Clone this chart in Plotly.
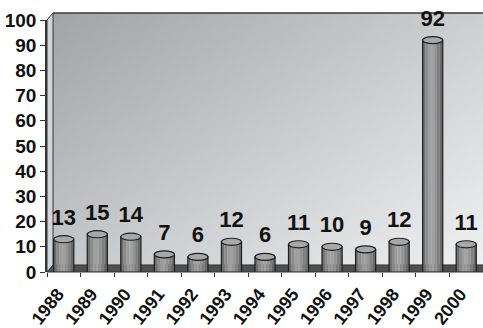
import base64
import struct
import zlib

import plotly.graph_objects as go

# Yearly counts
years = ["1988", "1989", "1990", "1991", "1992", "1993", "1994",
         "1995", "1996", "1997", "1998", "1999", "2000"]
counts = [13, 15, 14, 7, 6, 12, 6, 11, 10, 9, 12, 92, 11]
y_ticks = list(range(0, 101, 10))


def gradient_png(w, h, dark, light):
    """Diagonal grey gradient (dark top-left -> light bottom-right) as PNG data URI."""
    rows = []
    for j in range(h):
        row = bytearray([0])
        for i in range(w):
            t = 0.55 * i / (w - 1) + 0.45 * j / (h - 1)
            row.extend(int(round(d + (l - d) * t)) for d, l in zip(dark, light))
        rows.append(bytes(row))
    raw = b"".join(rows)

    def chunk(tag, data):
        c = struct.pack(">I", len(data)) + tag + data
        return c + struct.pack(">I", zlib.crc32(tag + data) & 0xFFFFFFFF)

    png = b"\x89PNG\r\n\x1a\n"
    png += chunk(b"IHDR", struct.pack(">IIBBBBB", w, h, 8, 2, 0, 0, 0))
    png += chunk(b"IDAT", zlib.compress(raw, 9))
    png += chunk(b"IEND", b"")
    return "data:image/png;base64," + base64.b64encode(png).decode()


wall_img = gradient_png(120, 80, (162, 165, 168), (240, 241, 242))

FONT = "Liberation Sans, Arial, sans-serif"
BAR_W = 0.6
slice_grays = ["#707070", "#8a8a8a", "#9c9c9c", "#a0a0a0", "#939393",
               "#808080", "#6a6a6a"]
n_slices = len(slice_grays)

fig = go.Figure()

# cylinder body: vertical slices of varying grey
for k, g in enumerate(slice_grays):
    fig.add_trace(go.Bar(
        x=years, y=counts,
        width=BAR_W / n_slices,
        offset=-BAR_W / 2 + k * BAR_W / n_slices,
        marker=dict(color=g, line=dict(width=0)),
        hoverinfo="skip", showlegend=False,
    ))

# cylinder outline
fig.add_trace(go.Bar(
    x=years, y=counts, width=BAR_W,
    marker=dict(color="rgba(0,0,0,0)", line=dict(color="#1e1e1e", width=1.2)),
    showlegend=False,
))

# value labels above each cylinder top (an invisible marker keeps a gap)
fig.add_trace(go.Scatter(
    x=years, y=counts, mode="markers+text",
    marker=dict(size=13, color="rgba(0,0,0,0)"),
    text=[str(v) for v in counts],
    textposition="top center",
    textfont=dict(family=FONT, size=22, color="#111", weight="bold"),
    cliponaxis=False, hoverinfo="skip", showlegend=False,
))

# depth offsets of the 3D frame, in paper units of the plot area
dx, dy = 0.0138, 0.028

shapes = [
    # floor
    dict(type="path", xref="paper", yref="paper", layer="below",
         path=f"M 0 0 L 1 0 L {1 + dx} {dy} L {dx} {dy} Z",
         fillcolor="#4f4f4f", line=dict(color="#333", width=1)),
    # left side wall
    dict(type="path", xref="paper", yref="paper", layer="below",
         path=f"M 0 0 L {dx} {dy} L {dx} {1 + dy} L 0 1 Z",
         fillcolor="#d2d6da", line=dict(color="#333", width=1)),
    # top edge of back wall
    dict(type="line", xref="paper", yref="paper", layer="below",
         x0=dx, x1=1.02, y0=1 + dy, y1=1 + dy,
         line=dict(color="#3a3a3a", width=1.5)),
]

# elliptical tops of the cylinders
for i, v in enumerate(counts):
    shapes.append(dict(
        type="circle", xref="x", yref="y",
        x0=i - BAR_W / 2, x1=i + BAR_W / 2, y0=v - 1.4, y1=v + 1.4,
        fillcolor="#a8a8a8", line=dict(color="#1e1e1e", width=1.2),
    ))

fig.update_layout(
    width=483, height=328,
    margin=dict(l=47, r=0, t=20, b=56),
    paper_bgcolor="white",
    plot_bgcolor="rgba(0,0,0,0)",
    barmode="overlay",
    bargap=0.4,
    shapes=shapes,
    images=[dict(source=wall_img, xref="paper", yref="paper",
                 x=dx, y=1 + dy, sizex=1.0, sizey=1.0,
                 sizing="stretch", layer="below", xanchor="left",
                 yanchor="top")],
    font=dict(family=FONT, color="#111"),
    xaxis=dict(
        type="category", range=[-0.5, 12.5], automargin=False,
        tickangle=-52, ticks="outside", ticklen=4, tickcolor="#333",
        tickson="boundaries",
        ticklabelstandoff=7, ticklabelshift=-6,
        tickfont=dict(family=FONT, size=18, color="#111", weight="bold"),
        showgrid=False, zeroline=False, showline=False,
    ),
    yaxis=dict(
        range=[0, 100], tickvals=y_ticks, automargin=False,
        ticks="outside", ticklen=5, tickcolor="#333",
        tickfont=dict(family=FONT, size=19, color="#111", weight="bold"),
        showgrid=False, zeroline=False,
        showline=True, linecolor="#333", linewidth=1.5,
    ),
)

fig.write_html("out.html")
